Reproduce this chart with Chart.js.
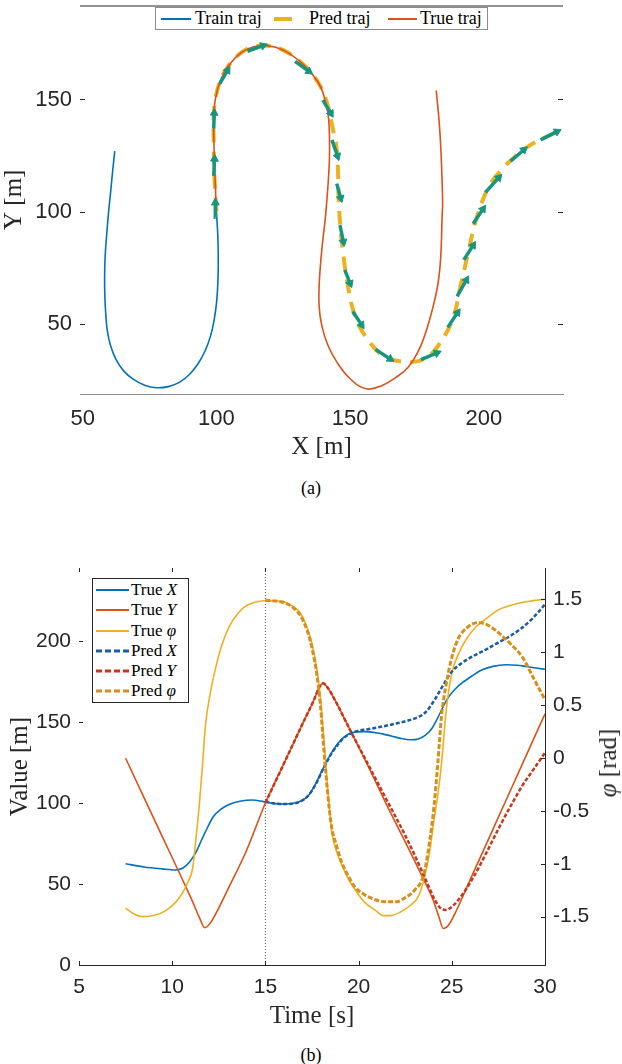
<!DOCTYPE html>
<html>
<head>
<meta charset="utf-8">
<title>Trajectory prediction</title>
<script src="https://cdn.jsdelivr.net/npm/chart.js@4.4.1/dist/chart.umd.min.js"></script>
<style>
  html, body { margin: 0; padding: 0; background: #fff; }
  body { position: relative; width: 622px; height: 1064px; overflow: hidden; color: #000;
         font-family: "Liberation Serif", "DejaVu Serif", serif; }
  .box { position: absolute; left: 0; width: 622px; }
  #boxA { top: 0; height: 470px; }
  #boxB { top: 540px; height: 500px; }
  .abs { position: absolute; white-space: nowrap; }
  .leg { position: absolute; background: #fff; }
  .leg svg { position: absolute; left: 0; top: 0; }
  .legA { left: 155px; top: 7px; width: 331px; height: 21px; border: 1px solid #8c8c8c; font-size: 18px; }
  .legA span { position: absolute; top: 0; line-height: 21px; }
  .legB { left: 92px; top: 578px; width: 95px; height: 123px; border: 1px solid #262626; font-size: 17px; }
  .legB span { position: absolute; left: 38px; line-height: 20px; }
  .center { transform: translate(-50%, -50%); }
  .caption { font-size: 18px; }
  .rtitle { font-size: 25px; color: #262626; transform: translate(-50%, -50%) rotate(-90deg); }
</style>
</head>
<body>
<div class="box" id="boxA"><canvas id="chartA" width="622" height="470"></canvas></div>
<div class="box" id="boxB"><canvas id="chartB" width="622" height="500"></canvas></div>

<div class="leg legA">
  <svg width="331" height="21">
    <line x1="5" y1="11" x2="35" y2="11" stroke="#0072BD" stroke-width="2"/>
    <line x1="118" y1="11" x2="136" y2="11" stroke="#EDB120" stroke-width="4"/>
    <line x1="232" y1="11" x2="261" y2="11" stroke="#D95319" stroke-width="2"/>
  </svg>
  <span style="left:39px">Train traj</span>
  <span style="left:153px">Pred traj</span>
  <span style="left:264px">True traj</span>
</div>

<div class="leg legB">
  <svg width="95" height="123">
    <line x1="3" y1="11" x2="36" y2="11" stroke="#0072BD" stroke-width="2"/>
    <line x1="3" y1="31" x2="36" y2="31" stroke="#D95319" stroke-width="2"/>
    <line x1="3" y1="52" x2="36" y2="52" stroke="#EDB120" stroke-width="2"/>
    <line x1="3" y1="72" x2="36" y2="72" stroke="#1A5DA6" stroke-width="3" stroke-dasharray="6 3"/>
    <line x1="3" y1="92" x2="36" y2="92" stroke="#C8361A" stroke-width="3" stroke-dasharray="6 3"/>
    <line x1="3" y1="112" x2="36" y2="112" stroke="#D98E1A" stroke-width="3" stroke-dasharray="6 3"/>
  </svg>
  <span style="top:1px">True <i>X</i></span>
  <span style="top:21px">True <i>Y</i></span>
  <span style="top:42px">True <i>φ</i></span>
  <span style="top:62px">Pred <i>X</i></span>
  <span style="top:82px">Pred <i>Y</i></span>
  <span style="top:102px">Pred <i>φ</i></span>
</div>

<div class="abs rtitle" style="left:608px; top:763px"><i>φ</i> [rad]</div>
<div class="abs center caption" style="left:311px; top:488px">(a)</div>
<div class="abs center caption" style="left:311px; top:1055px">(b)</div>

<script>
// ---- (a) trajectory in the plane ----
const xTicksA = [50, 100, 150, 200];
const yTicksA = [50, 100, 150];
const xRangeA = [49, 229.6];
const yRangeA = [18.7, 191.9];

const trainX = [62, 61.2, 60.4, 59.7, 59, 58.4, 58.2, 58.3, 58.6, 59.2, 60.5, 62.5, 65.3, 69, 73.2, 77.5, 82, 86.3, 90, 93.2, 95.8, 97.8, 99.2, 100.1, 100.6, 100.7, 100.5, 100];
const trainY = [127, 118, 108, 100, 90, 80, 70, 62, 55, 47, 40, 34, 29, 25.2, 22.6, 21.5, 22, 24, 27.5, 32.3, 38, 44.5, 52, 60, 70, 80, 90, 100];

const trueX = [100, 99.5, 99.1, 99, 99.6, 101.5, 104.5, 109.4, 114, 119, 125, 131.6, 136, 139, 141, 142, 142.3, 141.8, 140.8, 139.5, 138.5, 138.4, 139.4, 141.5, 145, 150, 156, 162, 167, 171.7, 176, 179.1, 181.5, 183, 183.9, 184.4, 184.6, 184, 183.3, 182.2];
const trueY = [100, 115, 130, 141, 150, 158.5, 165, 171, 173.5, 174, 172, 166.6, 161, 155.6, 148, 141, 126, 113, 98, 84, 69, 58, 49.3, 41, 33, 25.5, 21, 22.5, 26, 30.6, 39, 49.3, 60, 69, 80, 98, 104, 126, 140, 154];

const predX = [100, 99.3, 99, 99, 99.6, 101.5, 104.5, 109.4, 114, 119, 125, 131.6, 136, 139, 141.5, 143.5, 145, 145.5, 145.7, 146.5, 147.2, 148.7, 151.7, 156.9, 163.5, 171.7, 177.5, 182.4, 188.3, 191.3, 194.2, 197.2, 202, 206.5, 211.2, 216.5, 222.4, 227];
const predY = [100, 115, 130, 143, 150, 158.5, 165, 171, 173.5, 174, 172, 166.6, 161, 155.6, 148, 137, 127.7, 117, 106, 91, 83.5, 70.3, 54, 42.4, 35, 33, 34.2, 39.4, 52, 67, 82, 96.8, 111.5, 118.5, 124, 129, 132.8, 135.5];

// quiver arrows along the prediction: tail (qx, qy) and vector (qu, qv)
const qx = [99.7, 99.0, 99.0, 101.2, 111.6, 129.4, 139.8, 143.2, 145.0, 146.2, 148.0, 151.0, 159.5, 176.5, 186.5, 190.0, 192.5, 196.0, 200.6, 210.0, 221.2];
const qy = [97.5, 116, 137, 157, 171.5, 167, 149.7, 132, 112.5, 94, 74, 55.5, 38.6, 34, 48.4, 62.2, 78.5, 94.6, 108.6, 122.5, 132];
const qu = [-0.1, 0.3, 0.2, 3.0, 5.9, 5.2, 3.0, 2.1, 1.5, 1.3, 2.0, 3.3, 5.5, 6.0, 3.7, 3.5, 3.5, 3.7, 5.0, 5.0, 6.2];
const qv = [6.5, 7.5, 7.0, 6.0, 2.5, -4.5, -5.9, -7.3, -6.5, -7.5, -6.0, -6.0, -4.3, 3.0, 6.6, 7.4, 6.5, 6.6, 6.6, 5.1, 3.7];

// ---- (b) states over time ----
const xTicksB = [5, 10, 15, 20, 25, 30];
const yTicksB = [0, 50, 100, 150, 200];
const phiTicksB = [-1.5, -1, -0.5, 0, 0.5, 1, 1.5];
const xRangeB = [5, 30];
const yRangeB = [0, 245];
const phiRangeB = [-1.957, 1.796];
const splitTime = 15;

const tTrueX = [7.5, 8.5, 9.45, 10.2, 10.6, 10.93, 11.25, 11.57, 11.9, 12.2, 12.6, 13.05, 13.7, 14.3, 14.9, 15.5, 16, 16.5, 16.9, 17.3, 17.7, 18.14, 18.6, 19.2, 19.7, 20.3, 21, 21.5, 22.2, 22.8, 23.2, 23.55, 23.9, 24.2, 24.5, 24.8, 25.2, 25.6, 26.1, 26.6, 27.2, 27.9, 28.5, 29, 29.5, 30];
const trueXv = [62.5, 60.5, 59.3, 58.6, 60, 63.5, 69, 77, 85, 91.5, 96, 99, 101.2, 101.8, 100.8, 99.6, 99.3, 99.8, 101.2, 104.5, 112, 122.4, 132, 140.5, 143.5, 144, 143.2, 142, 140, 139, 139.5, 141.5, 145.5, 151.5, 158.5, 165, 170.5, 174.5, 178.5, 182, 184.3, 185.3, 185, 184.2, 183.3, 182.5];

const tTrueY = [7.5, 8.5, 9.5, 10.5, 11.1, 11.45, 11.75, 12.05, 12.4, 13, 14, 15, 16, 17, 17.6, 17.9, 18.1, 18.35, 18.8, 19.5, 20.5, 21.5, 22.5, 23.5, 24, 24.3, 24.55, 24.85, 25.2, 26, 27, 28, 29, 30];
const trueYv = [127.6, 103, 78.5, 54, 39, 29.5, 23, 26, 33, 47, 71, 100, 124.5, 149, 163.5, 171.5, 173.8, 171, 162, 146, 123, 99, 76, 52.5, 40, 30, 22.5, 25, 32.5, 53, 78.5, 104, 129.5, 155];

const tTruePhi = [7.5, 8, 8.43, 9, 9.68, 10.2, 10.57, 10.85, 11.1, 11.3, 11.46, 11.62, 11.78, 12, 12.3, 12.65, 13.05, 13.5, 13.9, 14.4, 14.92, 15.5, 16, 16.5, 16.87, 17.2, 17.5, 17.75, 17.93, 18.15, 18.36, 18.57, 18.85, 19.2, 19.5, 19.83, 20.3, 20.9, 21.32, 21.7, 22.2, 22.8, 23.2, 23.5, 23.8, 24.05, 24.25, 24.45, 24.7, 25, 25.35, 25.8, 26.3, 26.8, 27.5, 28.5, 29.3, 30];
const truePhiv = [-1.42, -1.48, -1.5, -1.49, -1.44, -1.36, -1.27, -1.17, -1.04, -0.72, -0.43, -0.08, 0.3, 0.57, 0.83, 1.06, 1.24, 1.36, 1.43, 1.47, 1.487, 1.485, 1.475, 1.43, 1.37, 1.25, 1.08, 0.85, 0.61, 0.15, -0.33, -0.71, -0.9, -1.05, -1.16, -1.25, -1.36, -1.44, -1.49, -1.49, -1.46, -1.39, -1.31, -1.15, -0.9, -0.58, -0.35, -0.05, 0.45, 0.8, 0.98, 1.13, 1.24, 1.31, 1.4, 1.46, 1.485, 1.5];

const tPredX = [15, 15.5, 16, 16.5, 16.9, 17.3, 17.7, 18.1, 18.6, 19.2, 19.8, 20.5, 21.2, 22, 22.7, 23.2, 23.6, 24.1, 24.5, 25, 25.5, 26.2, 26.8, 27.5, 28.2, 28.7, 29.3, 30];
const predXv = [100.8, 99.6, 99.3, 99.6, 101, 104.5, 111.5, 121, 131.5, 140, 144, 145.5, 147, 149, 151, 153, 156, 164, 172, 181, 186, 191, 194.5, 199, 203.5, 207.5, 213.5, 222.5];

const tPredY = [15, 16, 17, 17.6, 17.9, 18.1, 18.35, 18.8, 19.5, 20.5, 21.5, 22.5, 23.2, 23.7, 24.1, 24.4, 24.7, 25.1, 25.6, 26.2, 26.8, 27.5, 28.2, 28.8, 29.4, 30];
const predYv = [100, 124.5, 149, 163.5, 171.5, 173.8, 171, 162, 146, 124, 102, 80, 63, 50, 40, 35, 34, 37, 44, 55, 68, 84, 99, 111, 121, 131];

const tPredPhi = [15, 15.5, 16, 16.5, 16.9, 17.25, 17.5, 17.75, 17.95, 18.15, 18.35, 18.55, 18.8, 19.1, 19.4, 19.8, 20.3, 20.9, 21.5, 22, 22.5, 23, 23.5, 23.8, 24.05, 24.25, 24.45, 24.7, 25, 25.35, 25.8, 26.4, 27, 27.6, 28.2, 28.8, 29.4, 30];
const predPhiv = [1.49, 1.485, 1.47, 1.42, 1.34, 1.2, 1.04, 0.8, 0.5, 0.05, -0.35, -0.65, -0.82, -0.99, -1.1, -1.22, -1.29, -1.34, -1.36, -1.36, -1.32, -1.25, -1.1, -0.8, -0.45, -0.05, 0.4, 0.7, 0.95, 1.13, 1.23, 1.28, 1.25, 1.17, 1.07, 0.95, 0.75, 0.55];

// helpers
function pts(xs, ys) {
  return xs.map((x, i) => ({ x: x, y: ys[i] }));
}

function quiverShafts() {
  const out = [];
  qx.forEach((x, i) => {
    out.push({ x: x, y: qy[i] });
    out.push({ x: x + qu[i], y: qy[i] + qv[i] });
    out.push({ x: null, y: null });
  });
  return out;
}

function quiverHeads() {
  return qx.map((x, i) => ({ x: x + qu[i], y: qy[i] + qv[i] }));
}

function headRotation(ctx) {
  const i = ctx.dataIndex;
  const xs = ctx.chart.scales.x, ys = ctx.chart.scales.y;
  if (!xs || !ys) return 0;
  const dx = xs.getPixelForValue(qx[i] + qu[i]) - xs.getPixelForValue(qx[i]);
  const dy = ys.getPixelForValue(qy[i] + qv[i]) - ys.getPixelForValue(qy[i]);
  return Math.atan2(dy, dx) * 180 / Math.PI + 90;
}

// keep tick labels from pushing the plot area around
function noLabelPadding(s) {
  s.paddingTop = 0;
  s.paddingBottom = 0;
  s.paddingLeft = 0;
  s.paddingRight = 0;
}

// inward tick marks and the top frame line, drawn after the chart
const innerTicks = {
  id: 'innerTicks',
  afterDraw(chart, args, opts) {
    const ctx = chart.ctx;
    const a = chart.chartArea;
    ctx.save();
    ctx.strokeStyle = '#262626';
    ctx.lineWidth = 1;
    (opts.marks || []).forEach(m => {
      const s = chart.scales[m.scale];
      s.ticks.forEach(t => {
        const p = Math.round(s.getPixelForValue(t.value)) + 0.5;
        ctx.beginPath();
        if (m.side === 'left') { ctx.moveTo(a.left, p); ctx.lineTo(a.left + m.len, p); }
        if (m.side === 'right') { ctx.moveTo(a.right, p); ctx.lineTo(a.right - m.len, p); }
        if (m.side === 'bottom') { ctx.moveTo(p, a.bottom); ctx.lineTo(p, a.bottom - m.len); }
        if (m.side === 'top') { ctx.moveTo(p, a.top); ctx.lineTo(p, a.top + m.len); }
        ctx.stroke();
      });
    });
    if (opts.topLine) {
      ctx.beginPath();
      ctx.moveTo(a.left, a.top + 0.5);
      ctx.lineTo(a.right, a.top + 0.5);
      ctx.stroke();
    }
    ctx.restore();
  }
};

Chart.defaults.font.family = '"Liberation Sans", Arial, sans-serif';
Chart.defaults.color = '#262626';

const titleFont = { family: '"Liberation Serif", serif', size: 25 };

// chart (a)
new Chart(document.getElementById('chartA'), {
  type: 'scatter',
  data: {
    datasets: [
      { label: 'Train traj', data: pts(trainX, trainY), showLine: true, borderColor: '#0072BD', borderWidth: 1.6, pointRadius: 0, tension: 0.4, order: 4 },
      { label: 'Pred traj', data: pts(predX, predY), showLine: true, borderColor: '#EDB120', borderWidth: 4, borderDash: [14, 9], pointRadius: 0, tension: 0.4, order: 3 },
      { label: 'True traj', data: pts(trueX, trueY), showLine: true, borderColor: '#D95319', borderWidth: 1.6, pointRadius: 0, tension: 0.4, order: 2 },
      { label: 'arrows', data: quiverShafts(), showLine: true, spanGaps: false, borderColor: '#16967F', borderWidth: 3.5, pointRadius: 0, order: 1 },
      { label: 'heads', data: quiverHeads(), showLine: false, pointStyle: 'triangle', pointRadius: 4.5, rotation: headRotation,
        backgroundColor: '#16967F', borderColor: '#16967F', borderWidth: 1, order: 0 }
    ]
  },
  options: {
    responsive: false,
    animation: false,
    devicePixelRatio: 1,
    layout: { padding: { top: 1, right: 59, left: 0, bottom: 0 } },
    plugins: {
      legend: { display: false },
      tooltip: { enabled: false },
      innerTicks: { marks: [{ scale: 'y', side: 'left', len: 5 }, { scale: 'y', side: 'right', len: 5 }], topLine: true }
    },
    scales: {
      x: {
        type: 'linear', min: xRangeA[0], max: xRangeA[1],
        afterFit: s => { s.height = 76; noLabelPadding(s); },
        afterBuildTicks: s => { s.ticks = xTicksA.map(v => ({ value: v })); },
        grid: { display: false, drawTicks: false },
        border: { display: true, color: '#8c8c8c', width: 1 },
        ticks: { padding: 12, font: { size: 22 }, maxRotation: 0, autoSkip: false, callback: v => String(v) },
        title: { display: true, text: 'X [m]', font: titleFont, color: '#262626', padding: { top: 0, bottom: 8 } }
      },
      y: {
        type: 'linear', min: yRangeA[0], max: yRangeA[1],
        afterFit: s => { s.width = 80; noLabelPadding(s); },
        afterBuildTicks: s => { s.ticks = yTicksA.map(v => ({ value: v })); },
        grid: { display: false, drawTicks: false },
        border: { display: false },
        ticks: { padding: 8, font: { size: 22 }, autoSkip: false, callback: v => String(v) },
        title: { display: true, text: 'Y [m]', font: Object.assign({ lineHeight: 0.8 }, titleFont), color: '#262626', padding: { top: 4, bottom: 0 } }
      }
    }
  },
  plugins: [innerTicks]
});

// chart (b)
const lineBase = { pointRadius: 0, cubicInterpolationMode: 'monotone', fill: false };

new Chart(document.getElementById('chartB'), {
  type: 'line',
  data: {
    datasets: [
      { label: 'split', data: [{ x: splitTime, y: yRangeB[0] }, { x: splitTime, y: yRangeB[1] }], borderColor: '#555', borderWidth: 1, borderDash: [1, 2], pointRadius: 0, yAxisID: 'y', order: 7 },
      Object.assign({ label: 'True X', data: pts(tTrueX, trueXv), borderColor: '#0072BD', borderWidth: 1.6, yAxisID: 'y', order: 6 }, lineBase),
      Object.assign({ label: 'True Y', data: pts(tTrueY, trueYv), borderColor: '#D95319', borderWidth: 1.6, yAxisID: 'y', order: 5 }, lineBase),
      Object.assign({ label: 'True phi', data: pts(tTruePhi, truePhiv), borderColor: '#EDB120', borderWidth: 1.6, yAxisID: 'y1', order: 4 }, lineBase),
      Object.assign({ label: 'Pred X', data: pts(tPredX, predXv), borderColor: '#1A5DA6', borderWidth: 2.5, borderDash: [4, 2], yAxisID: 'y', order: 3 }, lineBase),
      Object.assign({ label: 'Pred Y', data: pts(tPredY, predYv), borderColor: '#C8361A', borderWidth: 2.5, borderDash: [4, 2], yAxisID: 'y', order: 2 }, lineBase),
      Object.assign({ label: 'Pred phi', data: pts(tPredPhi, predPhiv), borderColor: '#D98E1A', borderWidth: 3, borderDash: [5, 2], yAxisID: 'y1', order: 1 }, lineBase)
    ]
  },
  options: {
    responsive: false,
    animation: false,
    devicePixelRatio: 1,
    layout: { padding: { top: 28, right: 0, left: 0, bottom: 0 } },
    plugins: {
      legend: { display: false },
      tooltip: { enabled: false },
      innerTicks: { marks: [
        { scale: 'x', side: 'bottom', len: 4 }, { scale: 'x', side: 'top', len: 4 },
        { scale: 'y', side: 'left', len: 4 }, { scale: 'y1', side: 'right', len: 4 }
      ] }
    },
    scales: {
      x: {
        type: 'linear', min: xRangeB[0], max: xRangeB[1],
        afterFit: s => { s.height = 75; noLabelPadding(s); },
        afterBuildTicks: s => { s.ticks = xTicksB.map(v => ({ value: v })); },
        grid: { display: false, drawTicks: false },
        border: { display: true, color: '#262626', width: 1 },
        ticks: { padding: 10, font: { size: 21 }, maxRotation: 0, autoSkip: false, callback: v => String(v) },
        title: { display: true, text: 'Time [s]', font: titleFont, color: '#262626', padding: { top: 0, bottom: 9 } }
      },
      y: {
        type: 'linear', position: 'left', min: yRangeB[0], max: yRangeB[1],
        afterFit: s => { s.width = 79; noLabelPadding(s); },
        afterBuildTicks: s => { s.ticks = yTicksB.map(v => ({ value: v })); },
        grid: { display: false, drawTicks: false },
        border: { display: false },
        ticks: { padding: 8, font: { size: 21 }, autoSkip: false, callback: v => String(v) },
        title: { display: true, text: 'Value [m]', font: titleFont, color: '#262626', padding: { top: 5, bottom: 0 } }
      },
      y1: {
        type: 'linear', position: 'right', min: phiRangeB[0], max: phiRangeB[1],
        afterFit: s => { s.width = 77; noLabelPadding(s); },
        afterBuildTicks: s => { s.ticks = phiTicksB.map(v => ({ value: v })); },
        grid: { display: false, drawTicks: false },
        border: { display: true, color: '#262626', width: 1 },
        ticks: { padding: 8, font: { size: 21 }, autoSkip: false, callback: v => String(v) }
      }
    }
  },
  plugins: [innerTicks]
});
</script>
</body>
</html>
